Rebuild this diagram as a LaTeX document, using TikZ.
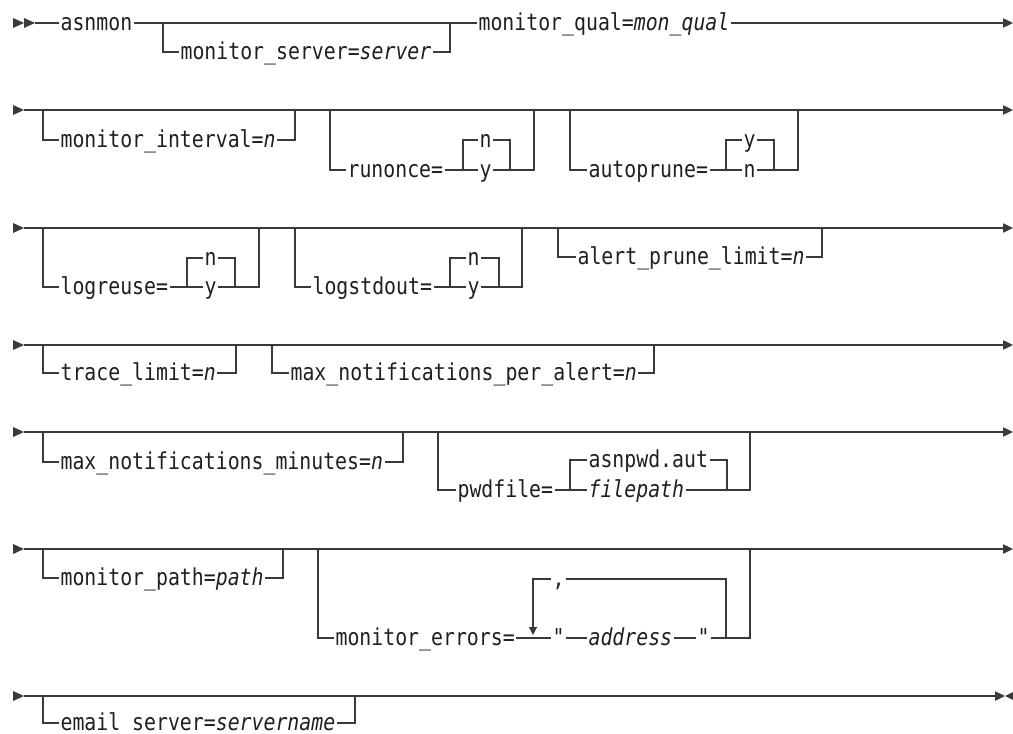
\documentclass[tikz,border=0pt]{standalone}
\usepackage{fontspec}
\setmonofont{DejaVu Sans Mono}[FakeStretch=0.85]
\usetikzlibrary{arrows.meta}
\definecolor{railgray}{HTML}{3A3A3A}
\definecolor{railink}{HTML}{1F1F1F}

\begin{document}
\begin{tikzpicture}[
    x=0.75pt, y=-0.75pt,
    font=\ttfamily\fontsize{17.5}{20}\selectfont,
    >={Triangle[length=7.5pt,width=7pt]},
    rail/.style={draw=railgray, line width=0.9pt},
    railhead/.style={fill=railgray},
    kw/.style={anchor=west, inner xsep=1pt, inner ysep=0pt,
               text height=11pt, text depth=0pt, text=railink},
]
    \useasboundingbox (0,0) rectangle (1013,734);

    % ============================================================
    %  ROW ENDS (start markers and end arrows)
    % ============================================================
    \coordinate (s1) at (35,23);
    \coordinate (e1) at (1013,23);
    \fill[railhead] (13,18) -- (24,23) -- (13,28) -- cycle;
    \fill[railhead] (24,18) -- (35,23) -- (24,28) -- cycle;
    \foreach \r/\y in {2/110,3/228,4/345,5/432,6/549,7/696} {
        \coordinate (s\r) at (24,\y);
        \coordinate (e\r) at (1013,\y);
        \fill[railhead] (13,\y-5) -- (24,\y) -- (13,\y+5) -- cycle;
    }
    \coordinate (e7) at (1005,696);

    % ============================================================
    %  ROW 1
    % ============================================================
    \node[kw] (asnmon) at (59,23) {asnmon};
    \node[kw] (msrv) at (179,52) {monitor\_server=\textit{server}};
    \node[kw] (mqual) at (477,23) {monitor\_qual=\textit{mon\_qual}};

    \draw[rail] (s1) -- (asnmon.west);
    \draw[rail] (asnmon.east) -- (mqual.west);
    \draw[rail] (163,23) |- (msrv.west);
    \draw[rail] (msrv.east) -| (450,23);
    \draw[rail,->] (mqual.east) -- (e1);

    % ============================================================
    %  ROW 2
    % ============================================================
    \draw[rail,->] (s2) -- (e2);
    \node[kw] (mint) at (59,140) {monitor\_interval=\textit{n}};
    \draw[rail] (43,110) |- (mint.west);
    \draw[rail] (mint.east) -| (295,110);

    \node[kw] (runon) at (346,170) {runonce=};
    \node[kw] (runn) at (478,140) {n};
    \node[kw] (runy) at (478,170) {y};
    \draw[rail] (330,110) |- (runon.west);
    \draw[rail] (runon.east) -- (runy.west);
    \draw[rail] (runy.east) -| (534,110);
    \draw[rail] (463,170) |- (runn.west);
    \draw[rail] (runn.east) -| (510,170);

    \node[kw] (aprune) at (587,170) {autoprune=};
    \node[kw] (apy) at (742,140) {y};
    \node[kw] (apn) at (742,170) {n};
    \draw[rail] (570,110) |- (aprune.west);
    \draw[rail] (aprune.east) -- (apn.west);
    \draw[rail] (apn.east) -| (798,110);
    \draw[rail] (726,170) |- (apy.west);
    \draw[rail] (apy.east) -| (774,170);

    % ============================================================
    %  ROW 3
    % ============================================================
    \draw[rail,->] (s3) -- (e3);
    \node[kw] (lreuse) at (59,287) {logreuse=};
    \node[kw] (lrn) at (203,258) {n};
    \node[kw] (lry) at (203,287) {y};
    \draw[rail] (43,228) |- (lreuse.west);
    \draw[rail] (lreuse.east) -- (lry.west);
    \draw[rail] (lry.east) -| (259,228);
    \draw[rail] (187,287) |- (lrn.west);
    \draw[rail] (lrn.east) -| (235,287);

    \node[kw] (lstd) at (311,287) {logstdout=};
    \node[kw] (lsn) at (466,258) {n};
    \node[kw] (lsy) at (466,287) {y};
    \draw[rail] (295,228) |- (lstd.west);
    \draw[rail] (lstd.east) -- (lsy.west);
    \draw[rail] (lsy.east) -| (522,228);
    \draw[rail] (450,287) |- (lsn.west);
    \draw[rail] (lsn.east) -| (499,287);

    \node[kw] (aplim) at (576,257) {alert\_prune\_limit=\textit{n}};
    \draw[rail] (558,228) |- (aplim.west);
    \draw[rail] (aplim.east) -| (822,228);

    % ============================================================
    %  ROW 4
    % ============================================================
    \draw[rail,->] (s4) -- (e4);
    \node[kw] (trace) at (59,373) {trace\_limit=\textit{n}};
    \draw[rail] (43,345) |- (trace.west);
    \draw[rail] (trace.east) -| (236,345);

    \node[kw] (mnpa) at (289,373) {max\_notifications\_per\_alert=\textit{n}};
    \draw[rail] (272,345) |- (mnpa.west);
    \draw[rail] (mnpa.east) -| (654,345);

    % ============================================================
    %  ROW 5
    % ============================================================
    \draw[rail,->] (s5) -- (e5);
    \node[kw] (mnm) at (59,462) {max\_notifications\_minutes=\textit{n}};
    \draw[rail] (43,432) |- (mnm.west);
    \draw[rail] (mnm.east) -| (403,432);

    \node[kw] (pwd) at (456,490) {pwdfile=};
    \node[kw] (pwa) at (587,460) {asnpwd.aut};
    \node[kw] (pfp) at (587,490) {\textit{filepath}};
    \draw[rail] (438,432) |- (pwd.west);
    \draw[rail] (pwd.east) -- (pfp.west);
    \draw[rail] (pfp.east) -| (750,432);
    \draw[rail] (570,490) |- (pwa.west);
    \draw[rail] (pwa.east) -| (727,490);

    % ============================================================
    %  ROW 6
    % ============================================================
    \draw[rail,->] (s6) -- (e6);
    \node[kw] (mpath) at (59,578) {monitor\_path=\textit{path}};
    \draw[rail] (43,549) |- (mpath.west);
    \draw[rail] (mpath.east) -| (283,549);

    \node[kw] (merr) at (334,638) {monitor\_errors=};
    \node[kw] (qa) at (551,638) {\textit{"}};
    \node[kw] (addr) at (587,638) {\textit{address}};
    \node[kw] (qb) at (696,638) {\textit{"}};
    \node[kw] (comma) at (551,579) {,};
    \draw[rail] (318,549) |- (merr.west);
    \draw[rail] (merr.east) -- (qa.west);
    \draw[rail] (qa.east) -- (addr.west);
    \draw[rail] (addr.east) -- (qb.west);
    \draw[rail] (qb.east) -| (750,549);
    % repeat loop back over the address
    \draw[rail] (726,638) |- (comma.east);
    \draw[rail,-{Triangle[length=6pt,width=6pt]}] (comma.west) -| (533,635);

    % ============================================================
    %  ROW 7
    % ============================================================
    \draw[rail,->] (s7) -- (e7);
    \fill[railhead] (1015,691) -- (1005,696) -- (1015,701) -- cycle;
    \node[kw] (esrv) at (59,723) {email\_server=\textit{servername}};
    \draw[rail] (43,696) |- (esrv.west);
    \draw[rail] (esrv.east) -| (355,696);

\end{tikzpicture}
\end{document}
